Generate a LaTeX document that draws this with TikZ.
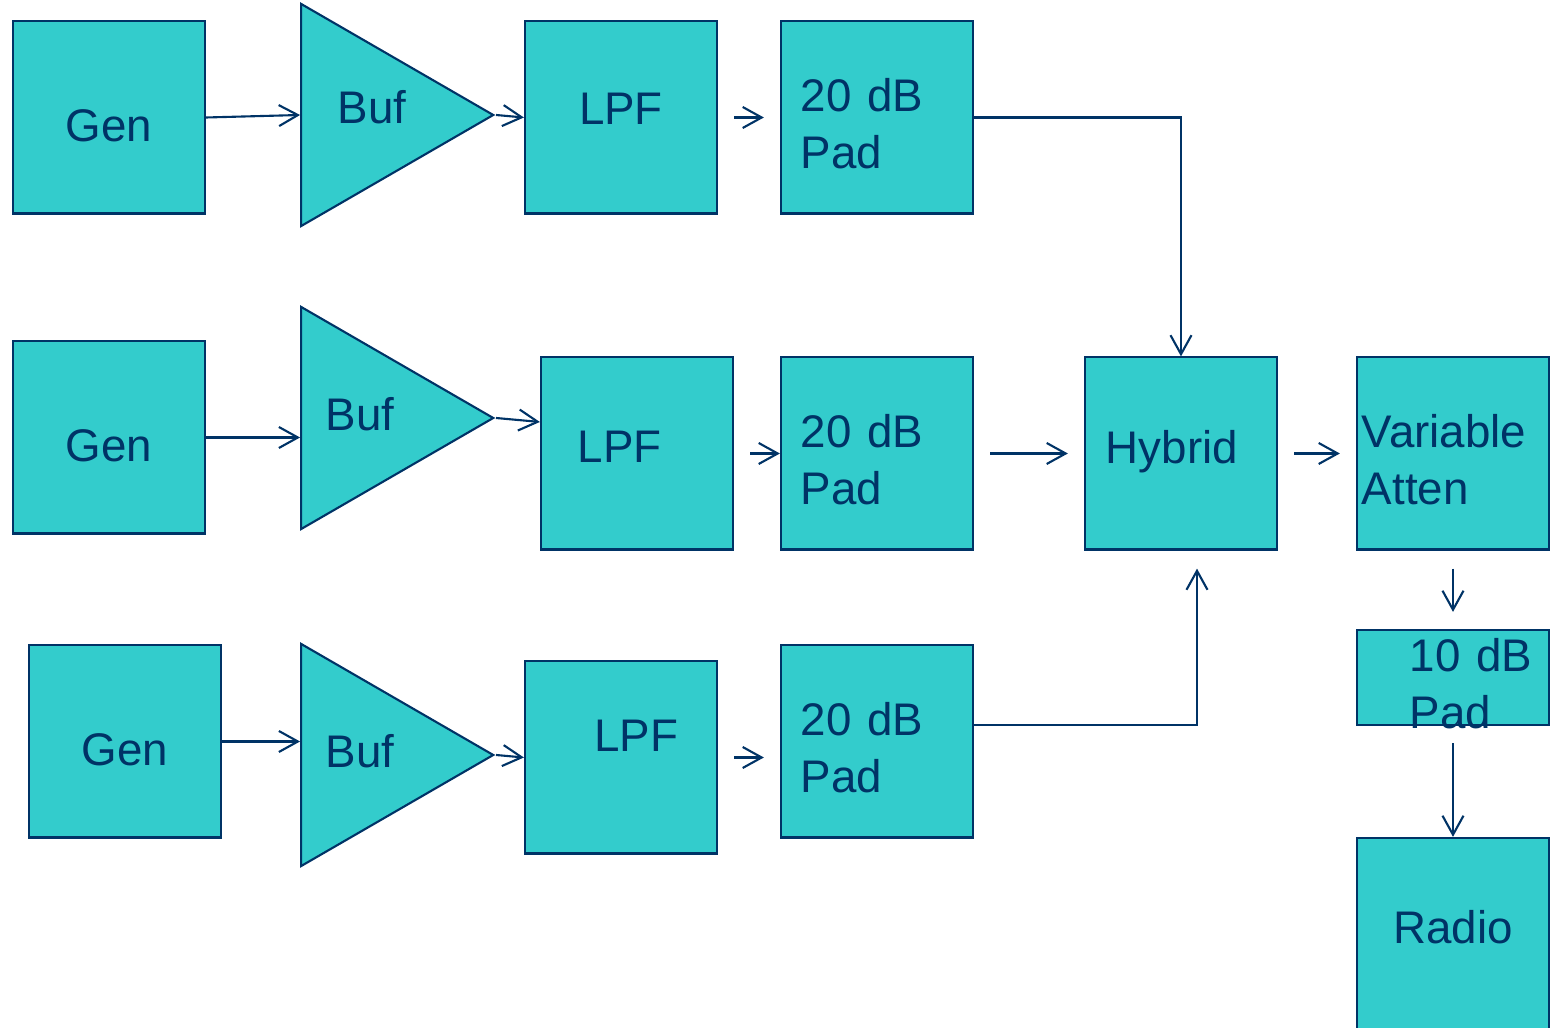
\documentclass[tikz,border=0pt]{standalone}
\usepackage{fontspec}
\setmainfont{Liberation Sans}
\usepackage{tikz}
\usetikzlibrary{
  arrows.meta,
  shapes.geometric
}
\definecolor{blkteal}{RGB}{51,204,204}
\definecolor{blknavy}{RGB}{0,51,102}
\tikzset{
  blk/.style={draw=blknavy, fill=blkteal, line width=0.6pt,
    minimum width=1.92cm, minimum height=1.92cm, inner sep=0pt,
    text=blknavy, font=\fontsize{13}{16.2}\selectfont, align=center},
  amp/.style={draw=blknavy, fill=blkteal, line width=0.6pt,
    isosceles triangle, isosceles triangle stretches,
    minimum width=2.22cm, minimum height=1.92cm, inner sep=0pt,
    text=blknavy, font=\fontsize{13}{16.2}\selectfont},
  lefttext/.style={text width=#1, align=left},
  righttext/.style={text width=#1, align=right},
  lift/.style={text depth=#1},
  sink/.style={text height=#1},
  arr/.style={-{Straight Barb[length=0.19cm, width=0.21cm]},
    draw=blknavy, line width=0.6pt},
}

\begin{document}
\begin{tikzpicture}[x=0.01cm, y=-0.01cm]
  \useasboundingbox (0,0) rectangle (1556,1028);

  % Top chain
  \node[blk, sink=0.48cm] (gen1) at (109,117.5) {Gen};
  \node[amp, anchor=apex, lift=0.16cm, righttext=0.83cm] (buf1) at (496,115) {Buf};
  \node[blk, lift=0.18cm] (lpf1) at (621,117.5) {LPF};
  \node[blk, lefttext=1.52cm, sink=0.45cm] (pad1) at (877,117.5) {20 dB\\Pad};

  % Middle chain
  \node[blk, sink=0.48cm] (gen2) at (109,437.5) {Gen};
  \node[amp, anchor=apex, lift=0.08cm, lefttext=0.83cm] (buf2) at (496,418) {Buf};
  \node[blk, lefttext=1.18cm, lift=0.14cm] (lpf2) at (637,453.5) {LPF};
  \node[blk, lefttext=1.52cm, sink=0.45cm] (pad2) at (877,453.5) {20 dB\\Pad};
  \node[blk, lefttext=1.50cm, lift=0.14cm] (hyb) at (1181,453.5) {Hybrid};
  \node[blk, lefttext=1.82cm, sink=0.45cm] (var) at (1453,453.5)
    {Variable\\Atten};

  % Output side
  \node[blk, minimum height=0.95cm, lefttext=0.86cm,
        sink=0.394cm, lift=0.51cm] (pad10) at (1453,677.5) {10~dB\\Pad};
  \node[blk, lift=0.14cm] (radio) at (1453,934) {Radio};

  % Bottom chain
  \node[blk, sink=0.48cm] (gen3) at (125,741.5) {Gen};
  \node[amp, anchor=apex, lift=0.08cm, lefttext=0.83cm] (buf3) at (496,755) {Buf};
  \node[blk, righttext=1.14cm, lift=0.44cm] (lpf3) at (621,757.5) {LPF};
  \node[blk, lefttext=1.52cm, sink=0.45cm] (pad3) at (877,741.5) {20 dB\\Pad};

  % Arrows, top
  \draw[arr] (gen1.east) -- (buf1.lower side);
  \draw[arr] (buf1.apex) -- (lpf1.west);
  \draw[arr, shorten <=0.16cm, shorten >=0.16cm] (lpf1.east) -- (pad1.west);
  \draw[arr] (pad1.east) -| (hyb.north);

  % Arrows, middle
  \draw[arr] (gen2.east) -- (gen2.east -| buf2.lower side);
  \draw[arr] (buf2.apex) -- ([yshift=0.315cm]lpf2.west);
  \draw[arr, shorten <=0.16cm] (lpf2.east) -- (pad2.west);
  \draw[arr, shorten <=0.16cm, shorten >=0.16cm] (pad2.east) -- (hyb.west);
  \draw[arr, shorten <=0.16cm, shorten >=0.16cm] (hyb.east) -- (var.west);
  \draw[arr, shorten <=0.18cm, shorten >=0.17cm] (var.south) -- (pad10.north);
  \draw[arr, shorten <=0.17cm] (pad10.south) -- (radio.north);

  % Arrows, bottom
  \draw[arr] (gen3.east) -- (gen3.east -| buf3.lower side);
  \draw[arr] (buf3.apex) -- (lpf3.west);
  \draw[arr, shorten <=0.16cm, shorten >=0.16cm]
    (lpf3.east) -- (lpf3.east -| pad3.west);
  \draw[arr, shorten >=0.18cm]
    ([yshift=0.165cm]pad3.east) -| ([xshift=0.16cm]hyb.south);
\end{tikzpicture}
\end{document}
